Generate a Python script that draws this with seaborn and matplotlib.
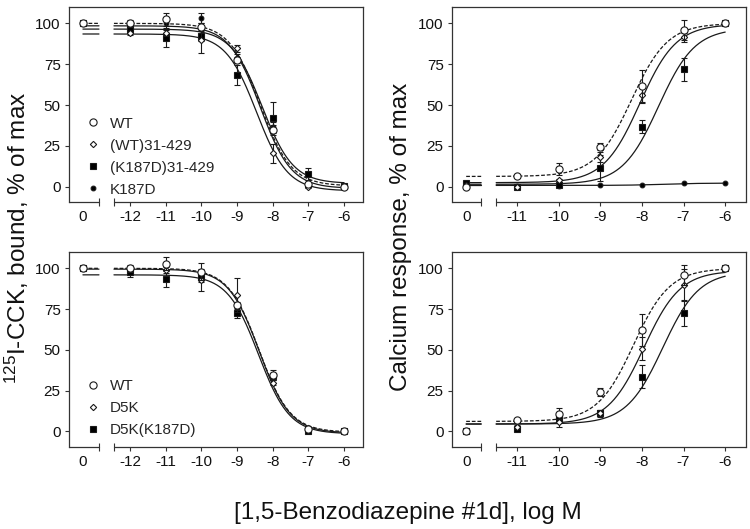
import numpy as np
import pandas as pd
import matplotlib
matplotlib.use("Agg")
import matplotlib.pyplot as plt
from matplotlib.lines import Line2D
import seaborn as sns

sns.set_theme(style="ticks")
plt.rcParams['font.family'] = ['Liberation Sans', 'DejaVu Sans']
plt.rcParams['mathtext.fontset'] = 'custom'
plt.rcParams['mathtext.rm'] = 'Liberation Sans'
plt.rcParams['mathtext.it'] = 'Liberation Sans:italic'
plt.rcParams['mathtext.bf'] = 'Liberation Sans:bold'
plt.rcParams['mathtext.default'] = 'regular'

# ---- data (log M doses; control "0" is plotted on the left segment) ----
bind_doses = [-12, -11, -10, -9, -8, -7, -6]
ca_doses = [-11, -10, -9, -8, -7, -6]

# top left: 125I-CCK binding
tl_names = ["WT", "(WT)31-429", "(K187D)31-429", "K187D"]
tl_ctrl = [100, 100, 100, 100]
tl_means = [[100, 102.6, 98, 77.5, 34.7, 1.4, 0],
            [93.9, 94.3, 89.8, 84.7, 20.4, 0, 0],
            [96.5, 90.8, 92.2, 68.4, 42.2, 7.8, 0.5],
            [98, 100, 103.5, 79, 36.5, 1, 0]]
tl_errs = [[2, 4, 2, 2, 3, 1, 0],
           [1, 2, 8, 2, 6, 1, 0],
           [2, 5, 3, 6, 9.5, 3.5, 0],
           [2, 3, 3, 2, 3, 0, 0]]
# fit: bottom, top, logEC50, hill
tl_fits = [(0.5, 100, -8.35, -1), (-2.5, 93.5, -8.45, -1),
           (2, 96.5, -8.3, -1), (-1, 98.5, -8.35, -1)]

# top right: calcium response
tr_names = ["WT", "(WT)31-429", "(K187D)31-429", "K187D"]
tr_ctrl = [0, 1, 2.4, 1]
tr_means = [[6.7, 10.8, 24.5, 61.6, 95.9, 100],
            [0, 4, 18.4, 56, 91.4, 100],
            [0, 1, 11.2, 36.7, 71.8, 100],
            [0.5, 0.5, 0.8, 0.8, 2, 2]]
tr_errs = [[1, 3.5, 2, 10, 6, 0],
           [0, 1, 3, 5, 3, 0],
           [0, 0, 8, 4, 7, 0],
           [0, 0, 0, 0, 0, 0]]
tr_fits = [(6.3, 100, -8.25, 1), (2.5, 99.5, -8.05, 1),
           (1.5, 97, -7.6, 1), (0.8, 2.2, -7.5, 1)]

# bottom left: 125I-CCK binding
bl_names = ["WT", "D5K", "D5K(K187D)"]
bl_ctrl = [100, 100, 100]
bl_means = [[100, 102.7, 98, 77.5, 34.4, 1.6, 0],
            [100, 99, 92.8, 83.6, 29.7, 1, 0],
            [97.7, 93.4, 94.9, 72.3, 33.8, 0, 0]]
bl_errs = [[2, 4, 5, 2, 3, 1, 0],
           [1, 2, 7, 10.5, 1.5, 1, 0],
           [3, 5, 3, 3, 2, 1, 0]]
bl_fits = [(-0.5, 100, -8.38, -1), (-1, 99.5, -8.38, -1), (-1.5, 96, -8.4, -1)]

# bottom right: calcium response
br_names = ["WT", "D5K", "D5K(K187D)"]
br_ctrl = [0, 0, 0]
br_means = [[6.8, 10.9, 24.2, 62.1, 95.9, 100],
            [2.7, 5.7, 11, 50.8, 89.8, 100],
            [1.6, 7.8, 11.3, 33.4, 72.7, 100]]
br_errs = [[1, 3.5, 2.5, 10, 6, 0],
           [1, 3, 2, 7, 10, 0],
           [1, 2, 2, 7, 8, 0]]
br_fits = [(6.1, 100, -8.2, 1), (4.5, 98.5, -7.95, 1), (4.5, 98, -7.5, 1)]

# ---- styles ----
marker_style = {
    "WT": dict(marker="o", ms=5.2, mfc="white", zorder=6),
    "(WT)31-429": dict(marker="D", ms=3.2, mfc="white", zorder=5),
    "D5K": dict(marker="D", ms=3.2, mfc="white", zorder=5),
    "(K187D)31-429": dict(marker="s", ms=4, mfc="black", zorder=4),
    "D5K(K187D)": dict(marker="s", ms=4, mfc="black", zorder=4),
    "K187D": dict(marker="o", ms=3.4, mfc="black", zorder=3),
}
dash_style = {n: "" for n in marker_style}
dash_style["WT"] = (3, 1.5)

frame = "#333333"


def panel(ax, doses, names, ctrl, means, errs, fits, xlim, ylim, ctrl_x, brk, legend):
    rows = []
    for name, (bot, top, logec, hill) in zip(names, fits):
        for seg, xs in (("L", np.linspace(ctrl_x, brk[0], 5)),
                        ("R", np.linspace(brk[1], doses[-1], 300))):
            ys = bot + (top - bot) / (1 + 10 ** ((logec - xs) * hill))
            rows += [dict(x=a, y=b, series=name, seg=seg) for a, b in zip(xs, ys)]
    curves = pd.DataFrame(rows)
    sns.lineplot(data=curves, x="x", y="y", style="series", units="seg",
                 estimator=None, sort=False, color="k", lw=0.9,
                 dashes={n: dash_style[n] for n in names}, legend=False, ax=ax)

    handles = []
    for name, c, m, e in zip(names, ctrl, means, errs):
        st = marker_style[name]
        x = np.array(doses, float)
        y = np.array(m, float)
        e = np.array(e, float)
        k = e > 0
        ax.errorbar(x[k], y[k], yerr=e[k], fmt="none", ecolor="k",
                    elinewidth=0.8, capsize=2.5, capthick=0.8, zorder=st["zorder"] - 0.5)
        ax.plot(np.r_[ctrl_x, x], np.r_[c, y], ls="none", marker=st["marker"],
                ms=st["ms"], mfc=st["mfc"], mec="k", mew=0.8, zorder=st["zorder"])
        handles.append(Line2D([], [], ls="none", marker=st["marker"], ms=st["ms"],
                              mfc=st["mfc"], mec="k", mew=0.8))

    ax.set_xlim(xlim)
    ax.set_ylim(ylim)
    ax.set_xticks([ctrl_x] + doses)
    ax.set_xticklabels(["0"] + [str(d) for d in doses])
    ax.set_xticks(brk, minor=True)
    ax.set_yticks([0, 25, 50, 75, 100])
    ax.set_yticklabels(["0", "25", "50", "75", "100"])
    ax.tick_params(axis="both", which="major", direction="out", length=3,
                   width=0.8, color=frame, labelsize=11, labelcolor="#111111", pad=3)
    ax.tick_params(axis="x", which="minor", direction="inout", length=6,
                   width=0.8, color=frame)
    ax.xaxis.get_major_ticks()[0].tick1line.set_visible(False)
    ax.set_xlabel("")
    ax.set_ylabel("")

    for s in ("left", "top", "right"):
        ax.spines[s].set_color(frame)
        ax.spines[s].set_linewidth(0.9)
    ax.spines["bottom"].set_visible(False)
    span = xlim[1] - xlim[0]
    ax.axhline(ylim[0], xmin=0, xmax=(brk[0] - xlim[0]) / span, color=frame,
               lw=0.9, clip_on=False, zorder=10)
    ax.axhline(ylim[0], xmin=(brk[1] - xlim[0]) / span, xmax=1, color=frame,
               lw=0.9, clip_on=False, zorder=10)

    if legend:
        ax.legend(handles, names, loc="lower left", bbox_to_anchor=legend,
                  frameon=False, handlelength=1.0, handletextpad=0.6,
                  labelspacing=0.52, borderpad=0, borderaxespad=0, fontsize=11)


fig = plt.figure(figsize=(7.5, 5.29), dpi=100)
ax_tl = fig.add_axes([0.092, 0.618, 0.392, 0.3687])
ax_tr = fig.add_axes([0.6027, 0.618, 0.392, 0.3687])
ax_bl = fig.add_axes([0.092, 0.155, 0.392, 0.3686])
ax_br = fig.add_axes([0.6027, 0.155, 0.392, 0.3686])

bind_x = dict(xlim=(-13.71, -5.47), ctrl_x=-13.32, brk=[-12.87, -12.45])
ca_x = dict(xlim=(-12.56, -5.5), ctrl_x=-12.22, brk=[-11.86, -11.5])

panel(ax_tl, bind_doses, tl_names, tl_ctrl, tl_means, tl_errs, tl_fits,
      ylim=(-9.4, 110), legend=(0.055, 0.028), **bind_x)
panel(ax_tr, ca_doses, tr_names, tr_ctrl, tr_means, tr_errs, tr_fits,
      ylim=(-9.4, 110), legend=None, **ca_x)
panel(ax_bl, bind_doses, bl_names, bl_ctrl, bl_means, bl_errs, bl_fits,
      ylim=(-9.6, 110), legend=(0.055, 0.05), **bind_x)
panel(ax_br, ca_doses, br_names, br_ctrl, br_means, br_errs, br_fits,
      ylim=(-9.6, 110), legend=None, **ca_x)

fig.text(0.022, 0.55, r"$^{125}$I-CCK, bound, % of max", rotation=90,
         ha="center", va="center", fontsize=17.5, color="#111111")
fig.text(0.534, 0.553, "Calcium response, % of max", rotation=90,
         ha="center", va="center", fontsize=17.5, color="#111111")
fig.text(0.544, 0.03, "[1,5-Benzodiazepine #1d], log M",
         ha="center", va="center", fontsize=17.5, color="#111111")

fig.savefig("out.png", dpi=100)
